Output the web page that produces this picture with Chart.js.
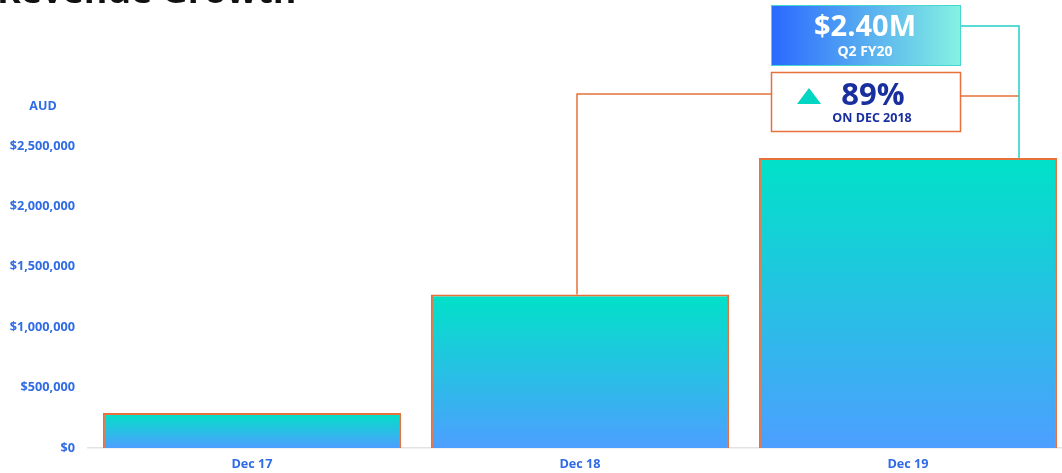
<!DOCTYPE html>
<html>
<head>
<meta charset="utf-8">
<script src="https://cdn.jsdelivr.net/npm/chart.js@4.4.1/dist/chart.umd.min.js"></script>
<style>
  html, body { margin: 0; padding: 0; background: #fff; overflow: hidden; }
  #wrap { position: relative; width: 1080px; height: 473px; }
</style>
</head>
<body>
<div id="wrap"><canvas id="revenue"></canvas></div>
<script>
// datos del gráfico
const categories = ['Dec 17', 'Dec 18', 'Dec 19'];
const revenue = [290000, 1270000, 2400000];
const yTicks = [0, 500000, 1000000, 1500000, 2000000, 2500000];
const latestLabel = 'Q2 FY20';
const compareLabel = 'ON DEC 2018';

const blue = '#2f6ce5';
const navy = '#1a2f9e';
const orange = '#e8703a';
const teal = '#20cfc6';

function barGradient(ctx) {
  const chart = ctx.chart;
  const { chartArea } = chart;
  if (!chartArea || ctx.dataIndex === undefined) return '#1ad0d8';
  const y = chart.scales.y;
  const top = y.getPixelForValue(revenue[ctx.dataIndex]);
  const bottom = y.getPixelForValue(0);
  const g = chart.ctx.createLinearGradient(0, top, 0, bottom);
  g.addColorStop(0, '#00e2c8');
  g.addColorStop(1, '#4d9fff');
  return g;
}

function fmtMoney(v) {
  return '$' + v.toLocaleString('en-US');
}

// títulos, cajas y conectores
const callouts = {
  id: 'callouts',
  afterDatasetsDraw(chart) {
    const c = chart.ctx;
    const meta = chart.getDatasetMeta(0);
    const b18 = meta.data[1];
    const b19 = meta.data[2];
    const boxL = b19.x - 137, boxW = 189;
    const growth = Math.round((revenue[2] / revenue[1] - 1) * 100);

    c.save();
    // título cortado arriba
    c.fillStyle = '#111';
    c.font = 'bold 36px "Open Sans"';
    c.textAlign = 'left';
    c.textBaseline = 'alphabetic';
    c.fillText('Revenue Growth', -3, 3);

    // AUD
    c.fillStyle = blue;
    c.font = 'bold 12.5px "Open Sans"';
    c.textAlign = 'center';
    c.textBaseline = 'middle';
    c.fillText('AUD', 43, 106);

    // conector naranja desde Dec 18
    c.strokeStyle = orange;
    c.lineWidth = 1.5;
    c.beginPath();
    c.moveTo(b18.x - 3, b18.y);
    c.lineTo(b18.x - 3, 94);
    c.lineTo(boxL, 94);
    c.moveTo(boxL + boxW, 96);
    c.lineTo(b19.x + 111, 96);
    c.stroke();

    // conector turquesa hacia Dec 19
    c.strokeStyle = teal;
    c.beginPath();
    c.moveTo(boxL + boxW, 26);
    c.lineTo(b19.x + 111, 26);
    c.lineTo(b19.x + 111, b19.y);
    c.stroke();

    // caja azul
    const g = c.createLinearGradient(boxL, 0, boxL + boxW, 0);
    g.addColorStop(0, '#2a68ff');
    g.addColorStop(1, '#84f2e2');
    c.fillStyle = g;
    c.fillRect(boxL, 5, boxW, 60);
    c.strokeStyle = '#45d6d0';
    c.lineWidth = 1;
    c.strokeRect(boxL + 0.5, 5.5, boxW, 60);
    c.fillStyle = '#fff';
    c.font = 'bold 29px "Open Sans"';
    c.fillText('$' + (revenue[2] / 1e6).toFixed(2) + 'M', boxL + 94, 28);
    c.font = 'bold 14px "Open Sans"';
    c.fillText(latestLabel, boxL + 94, 52);

    // caja naranja
    c.fillStyle = '#fff';
    c.fillRect(boxL, 72, boxW, 59);
    c.strokeStyle = orange;
    c.lineWidth = 1.5;
    c.strokeRect(boxL + 0.5, 72.5, boxW, 59);
    c.fillStyle = '#00d6c2';
    c.beginPath();
    c.moveTo(boxL + 26, 104);
    c.lineTo(boxL + 50, 104);
    c.lineTo(boxL + 38, 88);
    c.closePath();
    c.fill();
    c.fillStyle = navy;
    c.font = 'bold 31px "Open Sans"';
    c.fillText(growth + '%', boxL + 102, 96);
    c.font = 'bold 12.5px "Open Sans"';
    c.fillText(compareLabel, boxL + 101, 118);
    c.restore();
  }
};

new Chart(document.getElementById('revenue'), {
  type: 'bar',
  data: {
    labels: categories,
    datasets: [{
      data: revenue,
      backgroundColor: barGradient,
      borderColor: orange,
      borderWidth: 2,
      barPercentage: 0.909,
      categoryPercentage: 1
    }]
  },
  options: {
    responsive: true,
    maintainAspectRatio: false,
    animation: false,
    layout: { padding: { top: 146, right: 8, left: 0, bottom: 0 } },
    plugins: { legend: { display: false }, tooltip: { enabled: false } },
    scales: {
      x: {
        grid: { display: false, drawTicks: false },
        border: { display: true, color: '#e3e3e3', width: 1.5 },
        ticks: { color: blue, font: { family: 'Open Sans', weight: 'bold', size: 12.7 }, padding: 9 },
        afterFit(s) { s.height = 25; }
      },
      y: {
        min: 0,
        max: 2500000,
        grid: { display: false, drawTicks: false },
        border: { display: false },
        afterBuildTicks(s) { s.ticks = yTicks.map(v => ({ value: v })); },
        ticks: {
          color: blue,
          font: { family: 'Open Sans', weight: 'bold', size: 12.7 },
          padding: 13,
          callback: v => fmtMoney(v)
        },
        afterFit(s) { s.width = 88; }
      }
    }
  },
  plugins: [callouts]
});
</script>
</body>
</html>
